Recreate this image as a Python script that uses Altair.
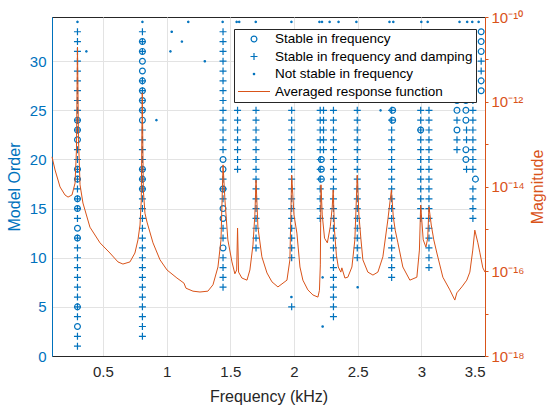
import altair as alt
import pandas as pd

BLUE = "#0072BD"
ORANGE = "#D95319"
DARK = "#262626"
FONT = "Liberation Sans"

series_names = [
    "Stable in frequency",
    "Stable in frequency and damping",
    "Not stable in frequency",
    "Averaged response function",
]

# Averaged response function: frequency (kHz) and log10(magnitude)
resp_freq = [0.100, 0.124, 0.163, 0.202, 0.226, 0.257, 0.281, 0.292, 0.300, 0.308,
             0.320, 0.343, 0.398, 0.477, 0.555, 0.618, 0.657, 0.712, 0.751, 0.775,
             0.791, 0.801, 0.809, 0.817, 0.830, 0.846, 0.893, 0.948, 1.003, 1.081,
             1.136, 1.152, 1.207, 1.262, 1.324, 1.364, 1.403, 1.427, 1.443, 1.458,
             1.481, 1.513, 1.536, 1.550, 1.557, 1.565, 1.591, 1.631, 1.654, 1.678,
             1.693, 1.702, 1.717, 1.748, 1.788, 1.827, 1.874, 1.945, 1.968, 1.982,
             2.000, 2.023, 2.047, 2.070, 2.109, 2.149, 2.188, 2.200, 2.207, 2.212,
             2.222, 2.240, 2.262, 2.285, 2.300, 2.308, 2.318, 2.333, 2.348, 2.368,
             2.376, 2.400, 2.423, 2.455, 2.478, 2.497, 2.510, 2.525, 2.541, 2.580,
             2.620, 2.659, 2.698, 2.737, 2.765, 2.780, 2.795, 2.816, 2.855, 2.910,
             2.965, 2.985, 2.995, 3.015, 3.036, 3.050, 3.060, 3.078, 3.098, 3.122,
             3.169, 3.224, 3.263, 3.279, 3.318, 3.357, 3.381, 3.404, 3.420, 3.444,
             3.459, 3.483, 3.500]
resp_log10 = [-13.30, -13.61, -14.01, -14.20, -14.25, -14.20, -13.92, -13.14, -10.71, -12.90,
              -13.96, -14.39, -14.96, -15.33, -15.57, -15.78, -15.83, -15.78, -15.57, -15.26,
              -14.91, -14.32, -11.79, -14.08, -14.63, -14.84, -15.33, -15.73, -15.97, -16.16,
              -16.28, -16.40, -16.47, -16.49, -16.47, -16.32, -15.90, -15.26, -13.49, -14.32,
              -15.26, -15.78, -16.06, -15.97, -14.98, -16.02, -16.16, -16.21, -15.97, -15.38,
              -14.67, -13.85, -14.96, -15.66, -16.04, -16.25, -16.37, -16.21, -15.73, -13.73,
              -14.67, -15.10, -15.90, -16.21, -16.44, -16.56, -16.61, -16.45, -15.85, -13.96,
              -14.67, -15.22, -15.33, -14.95, -14.50, -14.08, -15.03, -15.62, -15.90, -16.02,
              -15.92, -16.16, -16.14, -15.90, -15.26, -13.73, -14.67, -15.22, -15.73, -16.02,
              -16.09, -16.02, -15.66, -14.79, -14.08, -14.72, -15.03, -15.33, -15.90, -16.21,
              -16.14, -15.50, -14.44, -15.26, -15.43, -15.22, -14.48, -14.91, -15.26, -15.57,
              -16.14, -16.44, -16.68, -16.51, -16.37, -16.21, -16.02, -15.50, -15.03, -15.33,
              -15.55, -15.92, -16.02]

# Stable in frequency (circles): (frequency kHz, model orders)
circle_cols = [
    (0.300, [3, 5, 12, 13, 15, 16, 18, 19, 22, 23, 24]),
    (0.810, [17, 18, 19, 24, 25, 26, 27, 28, 29, 30, 31, 32]),
    (1.443, [11, 14, 15, 17, 19, 20]),
    (2.215, [18, 19, 20]),
    (2.775, [24, 25]),
    (2.995, [23]),
    (3.280, [23, 25, 26]),
    (3.350, [20, 21, 24, 25, 26]),
    (3.425, [18]),
    (3.470, [27, 28, 31, 32, 33]),
]

# Stable in frequency and damping (plus): (frequency kHz, model orders)
plus_cols = [
    (0.300, [1, 2, 4, 5, 6, 7, 8, 9, 10, 11, 12, 14, 15, 16, 17, 18, 19, 20, 21,
             23, 24, 25, 26, 27, 28, 29, 30, 31, 32, 33]),
    (0.810, [2, 3, 4, 5, 6, 7, 8, 9, 10, 11, 12, 13, 14, 15, 16, 17, 18, 19, 20,
             21, 22, 23, 25, 26, 27, 28, 31, 32, 33]),
    (1.443, [7, 8, 9, 10, 12, 13, 16, 17, 18, 21, 22, 23, 24, 25, 26, 27, 28, 29,
             30, 31, 32, 33]),
    (1.557, [19, 20, 21, 22, 23, 24, 25]),
    (1.702, [11, 12, 13, 14, 15, 16, 17, 18, 19, 20, 21, 22, 23, 24, 25]),
    (1.982, [5, 10, 11, 12, 13, 14, 15, 16, 17, 18, 19, 20, 21, 22, 23, 24, 25]),
    (2.206, [14, 15, 16, 17, 18, 19, 20, 21, 22, 23, 24, 25]),
    (2.232, [21, 22, 23, 24, 25]),
    (2.310, [4, 5, 6, 7, 8, 9, 10, 11, 12, 13, 14, 15, 16, 17, 18, 19, 20, 21, 22,
             23, 24, 25]),
    (2.497, [10, 11, 12, 13, 14, 15, 16, 17, 18, 19, 20, 21, 22, 23, 24, 25]),
    (2.767, [8, 9, 10, 11, 12, 13, 14, 15, 16, 17, 18, 19, 20, 21, 22, 23, 24, 25]),
    (2.995, [14, 15, 16, 17, 18, 19, 20, 21, 22, 23, 24, 25]),
    (3.060, [9, 10, 11, 12, 13, 14, 15, 16, 17, 18, 19, 20, 21, 22, 23, 24, 25]),
    (3.280, [21, 22, 24]),
    (3.355, [19, 22, 23]),
    (3.405, [14, 15, 16, 17, 19, 20, 21, 22, 23, 24, 25, 26]),
    (3.470, [29, 30]),
]

# Not stable in frequency (dots)
dot_freq = [0.30, 0.81, 1.17, 1.44, 1.55, 1.57, 1.70, 1.98, 2.20, 2.22, 2.28, 2.35,
            2.49, 2.75, 2.78, 3.00, 3.05, 3.30, 3.36, 3.40, 3.45,
            0.37, 0.92, 1.04, 1.12, 1.03, 1.30, 1.98, 2.225, 2.225, 2.50, 2.68]
dot_order = [34, 34, 34, 34, 34, 34, 34, 34, 34, 34, 34, 34,
             34, 34, 34, 34, 34, 34, 34, 34, 34,
             31, 24, 33, 32, 31, 30, 6, 8, 3, 7, 25]

x_ticks = [0.5, 1, 1.5, 2, 2.5, 3, 3.5]
y_ticks = [0, 5, 10, 15, 20, 25, 30]
mag_ticks = [1e-18, 1e-17, 1e-16, 1e-15, 1e-14, 1e-13, 1e-12, 1e-11, 1e-10]

rows = []
for f, orders in circle_cols:
    for o in orders:
        rows.append({"f": f, "order": o, "series": series_names[0]})
for f, orders in plus_cols:
    for o in orders:
        rows.append({"f": f, "order": o, "series": series_names[1]})
for f, o in zip(dot_freq, dot_order):
    rows.append({"f": f, "order": o, "series": series_names[2]})
points = pd.DataFrame(rows)

line_df = pd.DataFrame({
    "f": resp_freq,
    "mag": [10 ** v for v in resp_log10],
    "series": series_names[3],
})

color_scale = alt.Scale(domain=series_names, range=[BLUE, BLUE, BLUE, ORANGE])
shape_scale = alt.Scale(domain=series_names,
                        range=["circle", "M-1,0H1M0,-1V1", "circle", "stroke"])
size_scale = alt.Scale(type="ordinal", domain=series_names, range=[34, 49, 2, 1024])

x_enc = alt.X("f:Q",
              scale=alt.Scale(domain=[0.1, 3.5], nice=False, zero=False),
              axis=alt.Axis(values=x_ticks, format="~g", title="Frequency (kHz)",
                            grid=True, gridColor="#e3e3e3", ticks=False,
                            labelPadding=8, labelFontSize=15, labelColor=DARK,
                            titleFontSize=16, titleColor=DARK, titleFontWeight="normal",
                            titleX=216.5, titleY=40, titleBaseline="middle",
                            domainColor=DARK))

pts = alt.Chart(points).mark_point(filled=False, strokeWidth=1.2, opacity=1).encode(
    x=x_enc,
    y=alt.Y("order:Q",
            scale=alt.Scale(domain=[0, 34.5], nice=False),
            axis=alt.Axis(values=y_ticks, format="d", title="Model Order",
                          grid=True, gridColor="#e3e3e3", ticks=False,
                          labelPadding=6, labelFontSize=15, labelColor=BLUE,
                          titleFontSize=16, titleColor=BLUE, titleFontWeight="normal",
                          titleX=-38, titleY=169.5, titleAngle=270,
                          titleAlign="center", titleBaseline="middle",
                          domainColor=BLUE)),
    color=alt.Color("series:N", scale=color_scale, title=None),
    shape=alt.Shape("series:N", scale=shape_scale, title=None),
    size=alt.Size("series:N", scale=size_scale, title=None),
)

def sup_label():
    sup = {-18: "10⁻¹⁸", -16: "10⁻¹⁶", -14: "10⁻¹⁴", -12: "10⁻¹²", -10: "10⁻¹⁰"}
    e = "round(log(datum.value)/LN10)"
    expr = "''"
    for k, v in sup.items():
        expr = f"{e} == {k} ? '{v}' : ({expr})"
    return expr

line = alt.Chart(line_df).mark_line(strokeWidth=1).encode(
    x=alt.X("f:Q"),
    y=alt.Y("mag:Q",
            scale=alt.Scale(type="log", domain=[1e-18, 1e-10], nice=False),
            axis=alt.Axis(orient="right", values=mag_ticks, labelExpr=sup_label(),
                          title="Magnitude", grid=False, tickColor=ORANGE, tickSize=3,
                          labelPadding=3, labelFontSize=15, labelColor=ORANGE,
                          titleFontSize=16, titleColor=ORANGE, titleFontWeight="normal",
                          titleX=52, titleY=169.5, titleAngle=270,
                          titleAlign="center", titleBaseline="middle",
                          domainColor=ORANGE)),
    color=alt.Color("series:N", scale=color_scale, title=None),
)

chart = alt.layer(pts, line).resolve_scale(y="independent").properties(
    width=433, height=339,
    autosize=alt.AutoSizeParams(type="none"),
    padding={"left": 52, "top": 17, "right": 62, "bottom": 49},
).configure(font=FONT).configure_view(stroke=DARK, strokeWidth=1).configure_legend(
    orient="none", legendX=182, legendY=12, fillColor="white", strokeColor=DARK,
    strokeWidth=1, padding=3, clipHeight=14, rowPadding=3.5, labelFontSize=13.5,
    labelColor="#000000", labelOffset=4, symbolStrokeWidth=1.2, labelFont=FONT,
    labelLimit=0,
)

chart.save("out.html", embed_options={"renderer": "svg", "actions": False})
